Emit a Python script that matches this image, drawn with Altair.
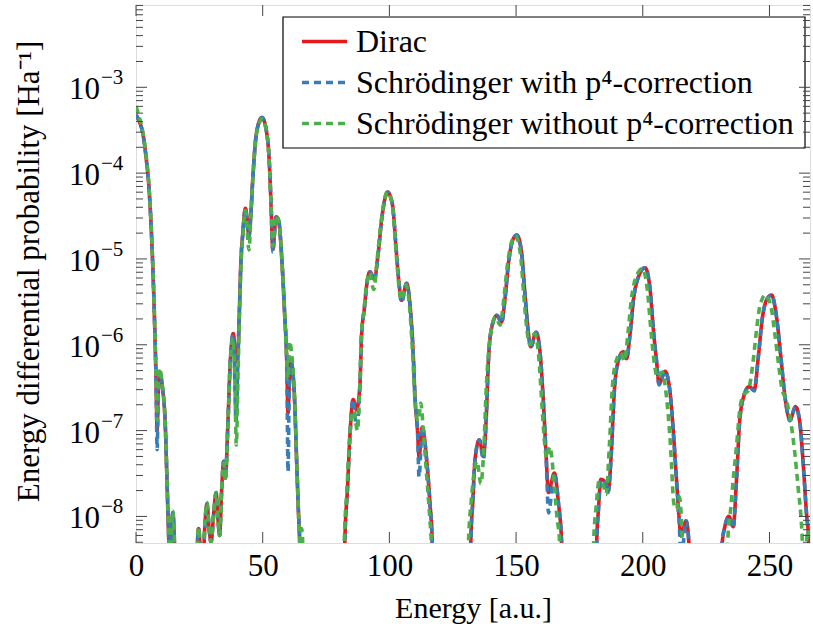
import altair as alt
import pandas as pd

FONT = "Liberation Serif"

series_names = ["Dirac", "Schrödinger with p⁴-correction", "Schrödinger without p⁴-correction"]
series_colors = ["#E41A1C", "#377EB8", "#4DAF4A"]
series_dash = [[1, 0], [7, 5], [7, 5]]

dirac_x = [0, 1.3, 2.6, 3.9, 5.3, 6.3, 7.2, 7.9, 8.35, 8.8, 9.3, 10.3, 11.6, 12.2, 12.8, 13.3, 13.7, 14.5, 15.3, 16.0,
           23.3, 24.1, 24.7, 25.5, 26.2, 27.2, 28.0, 28.9, 29.6, 30.7, 31.6, 32.4, 33.0, 33.8, 34.6, 35.3, 36.2, 37.2,
           38.4, 39.5, 40.3, 40.8, 41.4, 42.1, 43.2, 44.6, 45.3, 46.1, 47.6, 49.7, 51.3, 52.6, 53.3, 54.0, 55.3, 56.3,
           57.6, 58.6, 59.5, 60.0, 60.5, 61.2, 62.5, 63.4, 64.1, 64.7, 65.5,
           81.5, 82.4, 83.5, 84.4, 85.7, 87.0, 88.4, 89.0, 90.1, 91.0, 92.3, 94.0, 95.6, 96.9, 99.3, 101.1, 102.8,
           103.8, 104.8, 106.8, 108.1, 109.4, 110.1, 111.1, 111.7, 113.0, 114.7, 116.0, 116.9, 117.8,
           131.3, 132.1, 132.9, 133.8, 135.5, 137.1, 138.2, 139.1, 140.4, 142.4, 144.3, 145.7, 147.0, 148.7, 150.3,
           152.2, 153.6, 154.9, 155.8, 157.9, 159.5, 160.8, 161.8, 162.8, 165.1, 166.7, 168.0, 168.8,
           181.0, 181.8, 182.5, 183.5, 185.4, 186.4, 187.5, 188.8, 190.4, 192.3, 193.6, 195.0, 196.3, 198.3, 200.9,
           202.9, 204.2, 205.5, 206.4, 208.8, 210.8, 212.1, 213.4, 214.3, 215.1, 217.1, 218.6, 219.5,
           230.5, 231.3, 232.4, 234.0, 235.7, 237.0, 238.3, 240.3, 241.9, 244.0, 245.6, 247.1, 248.8, 250.8, 252.8,
           254.5, 256.1, 258.1, 260.3, 262.0, 263.3, 264.6, 265.6, 266.5]
dirac_y = [4.8e-4, 4.0e-4, 3.0e-4, 1.6e-4, 5.6e-5, 1.45e-5, 2.5e-6, 4.1e-7, 1.0e-7, 3.0e-7, 4.9e-7, 3.4e-7, 1.07e-7,
           2.8e-8, 7.2e-9, 3.0e-9, 3.5e-9, 1.1e-8, 3.5e-9, 1e-10,
           1e-10, 3.5e-9, 7.2e-9, 3.5e-9, 2e-9, 8e-9, 1.4e-8, 7e-9, 5e-9, 1.1e-8, 1.9e-8, 9e-9, 6e-9, 2e-8, 4.4e-8,
           2.8e-8, 1.07e-7, 6.3e-7, 1.35e-6, 6.3e-7, 9e-7, 2.5e-6, 9.3e-6, 1.9e-5, 3.9e-5, 1.9e-5, 3.2e-5, 8.7e-5,
           3.0e-4, 4.45e-4, 3.3e-4, 1.35e-4, 4.3e-5, 1.3e-5, 3.1e-5, 2.8e-5, 9.3e-6, 2.5e-6, 6.3e-7, 1.6e-7, 3.5e-7,
           6.3e-7, 2.6e-7, 4.4e-8, 1.15e-8, 4e-9, 1e-10,
           1e-10, 4.9e-9, 2.2e-8, 8.5e-8, 2.3e-7, 1.75e-7, 3.5e-7, 1.26e-6, 2.6e-6, 4.8e-6, 7.1e-6, 5.8e-6, 1.17e-5,
           2.8e-5, 6.0e-5, 4.5e-5, 1.17e-5, 5.2e-6, 3.3e-6, 5.2e-6, 3.0e-6, 7.9e-7, 2.5e-7, 1.0e-7, 5e-8, 1.1e-7,
           4.6e-8, 1.45e-8, 4.9e-9, 1e-10,
           1e-10, 4.7e-9, 1.45e-8, 4.6e-8, 7.8e-8, 5e-8, 1.35e-7, 6.6e-7, 1.6e-6, 2.2e-6, 1.85e-6, 3.6e-6, 8.9e-6,
           1.66e-5, 1.9e-5, 1.17e-5, 3.6e-6, 1.35e-6, 9.5e-7, 1.4e-6, 7.9e-7, 2.1e-7, 5.5e-8, 1.9e-8, 3.2e-8, 1.45e-8,
           4.7e-9, 1e-10,
           1e-10, 4.7e-9, 1.2e-8, 2.7e-8, 2.45e-8, 2.0e-8, 5e-8, 2.95e-7, 6.6e-7, 8.3e-7, 6.9e-7, 1.35e-6, 3.3e-6,
           6.2e-6, 7.9e-6, 4.4e-6, 1.48e-6, 6.2e-7, 3.5e-7, 4.9e-7, 2.75e-7, 9.3e-8, 2.45e-8, 1e-8, 5.9e-9, 8.9e-9,
           3e-9, 1e-10,
           1e-10, 4.7e-9, 7.6e-9, 1e-8, 7.6e-9, 2.7e-8, 1.35e-7, 2.75e-7, 3.25e-7, 3.0e-7, 7.2e-7, 1.95e-6, 3.3e-6,
           3.8e-6, 2.1e-6, 7.2e-7, 2.5e-7, 1.35e-7, 1.9e-7, 1.23e-7, 4.2e-8, 1.1e-8, 4.7e-9, 1e-10]

with_x = list(dirac_x)
with_y = [4.8e-4, 4.0e-4, 3.0e-4, 1.6e-4, 5.6e-5, 1.45e-5, 2.5e-6, 4.1e-7, 6e-8, 3.0e-7, 4.9e-7, 3.4e-7, 1.07e-7,
          2.8e-8, 7.2e-9, 3.0e-9, 3.5e-9, 1.1e-8, 3.5e-9, 1e-10,
          1e-10, 3.5e-9, 7.2e-9, 3.5e-9, 2e-9, 8e-9, 1.4e-8, 7e-9, 5e-9, 1.1e-8, 1.9e-8, 9e-9, 6e-9, 2e-8, 4.4e-8,
          2.8e-8, 1.07e-7, 6.3e-7, 1.35e-6, 1.3e-7, 8e-7, 2.5e-6, 9.3e-6, 1.9e-5, 3.9e-5, 1.8e-5, 3.2e-5, 8.7e-5,
          3.0e-4, 4.45e-4, 3.3e-4, 1.35e-4, 4.3e-5, 1.2e-5, 3.1e-5, 2.8e-5, 9.3e-6, 2.5e-6, 6.3e-7, 3.3e-8, 3.2e-7,
          6.3e-7, 2.6e-7, 4.4e-8, 1.15e-8, 4e-9, 1e-10,
          1e-10, 4.9e-9, 2.2e-8, 8.5e-8, 2.3e-7, 1.1e-7, 3.5e-7, 1.26e-6, 2.6e-6, 4.8e-6, 7.1e-6, 5.6e-6, 1.17e-5,
          2.8e-5, 6.0e-5, 4.5e-5, 1.17e-5, 5.2e-6, 3.1e-6, 5.2e-6, 3.0e-6, 7.9e-7, 2.5e-7, 1.0e-7, 2.9e-8, 1.1e-7,
          4.6e-8, 1.45e-8, 4.9e-9, 1e-10,
          1e-10, 4.7e-9, 1.45e-8, 4.6e-8, 7.8e-8, 4.6e-8, 1.35e-7, 6.6e-7, 1.6e-6, 2.2e-6, 1.8e-6, 3.6e-6, 8.9e-6,
          1.66e-5, 1.9e-5, 1.17e-5, 3.6e-6, 1.35e-6, 9.2e-7, 1.4e-6, 7.9e-7, 2.1e-7, 5.5e-8, 1.1e-8, 3.2e-8, 1.45e-8,
          4.7e-9, 1e-10,
          1e-10, 4.7e-9, 1.2e-8, 2.7e-8, 2.45e-8, 1.9e-8, 5e-8, 2.95e-7, 6.6e-7, 8.3e-7, 6.8e-7, 1.35e-6, 3.3e-6,
          6.2e-6, 7.9e-6, 4.4e-6, 1.48e-6, 6.2e-7, 3.4e-7, 4.9e-7, 2.75e-7, 9.3e-8, 2.45e-8, 1e-8, 3e-9, 8.9e-9,
          3e-9, 1e-10,
          1e-10, 4.7e-9, 7.6e-9, 1e-8, 7.3e-9, 2.7e-8, 1.35e-7, 2.75e-7, 3.25e-7, 2.9e-7, 7.2e-7, 1.95e-6, 3.3e-6,
          3.8e-6, 2.1e-6, 7.2e-7, 2.5e-7, 1.3e-7, 1.9e-7, 1.23e-7, 4.2e-8, 1.1e-8, 4.7e-9, 1e-10]

without_x = [0, 1.3, 2.6, 3.9, 5.3, 6.3, 7.2, 7.9, 8.35, 8.8, 9.3, 10.3, 11.6, 12.2, 12.8, 13.3, 13.7, 14.5, 15.3, 16.0,
             23.3, 24.1, 24.7, 25.5, 26.2, 27.2, 28.0, 28.9, 29.6, 30.7, 31.6, 32.4, 33.0, 33.8, 34.6, 35.3, 36.2,
             37.2, 38.3, 39.0, 39.6, 40.3, 40.9, 41.5, 42.1, 43.2, 44.6, 45.3, 46.1, 47.6, 49.9, 51.4, 52.6, 53.3,
             54.0, 55.2, 56.3, 57.6, 58.6, 59.5, 60.0, 60.6, 61.4, 62.5, 63.4, 64.2, 64.8, 65.4, 66.0, 66.6,
             81.5, 82.2, 83.3, 84.3, 85.3, 86.1, 86.8, 87.4, 88.3, 88.9, 90.0, 90.9, 92.2, 93.8, 95.4, 96.8, 99.2,
             101.0, 102.7, 103.7, 104.7, 106.6, 107.9, 109.2, 110.0, 110.8, 111.5, 112.4, 113.4, 114.7, 116.0, 116.6,
             117.3,
             130.5, 131.2, 132.3, 133.4, 134.6, 136.1, 137.3, 138.2, 139.4, 140.4, 141.9, 143.7, 145.2, 146.6, 148.3,
             149.8, 151.7, 153.1, 154.4, 155.4, 157.3, 158.9, 160.2, 161.2, 162.1, 163.3, 164.7, 166.1, 167.2, 168.0,
             180.0, 180.6, 181.6, 182.8, 184.3, 185.5, 186.8, 188.0, 189.6, 191.3, 192.7, 194.2, 195.5, 197.5, 199.8,
             201.8, 203.2, 204.6, 205.7, 207.7, 209.4, 210.9, 212.3, 213.3, 214.4, 215.5, 216.5,
             232.5, 233.5, 234.8, 235.7, 237.0, 238.3, 239.6, 241.6, 243.6, 244.9, 246.2, 248.4, 250.6, 252.1, 253.7,
             255.0, 256.3, 258.1, 260.0, 261.3, 262.7, 263.4, 264.3, 265.2, 266.0]
without_y = [6.0e-4, 4.5e-4, 3.1e-4, 1.7e-4, 6.0e-5, 1.5e-5, 2.6e-6, 4.3e-7, 1.3e-7, 3.3e-7, 5.3e-7, 3.6e-7, 1.1e-7,
             2.9e-8, 7.5e-9, 3e-9, 3.5e-9, 1.15e-8, 3.5e-9, 1e-10,
             1e-10, 3.5e-9, 7.5e-9, 3.5e-9, 2e-9, 8.5e-9, 1.45e-8, 7e-9, 5e-9, 1.1e-8, 1.9e-8, 9e-9, 6e-9, 2e-8,
             4.2e-8, 2.6e-8, 1.0e-7, 6.0e-7, 1.2e-6, 4e-7, 6.8e-8, 5e-7, 2.5e-6, 9e-6, 1.8e-5, 3.7e-5, 1.27e-5,
             3.0e-5, 8.5e-5, 2.9e-4, 4.3e-4, 3.2e-4, 1.35e-4, 4.3e-5, 1.4e-5, 3.2e-5, 2.8e-5, 9.5e-6, 2.6e-6, 6.5e-7,
             4e-7, 1.1e-6, 8e-7, 2.8e-7, 4.6e-8, 1.0e-8, 4.5e-9, 7.2e-9, 3e-9, 1e-10,
             1e-10, 4.9e-9, 2.2e-8, 8e-8, 1.6e-7, 1.7e-7, 1.2e-7, 1.0e-7, 3.2e-7, 1.2e-6, 2.6e-6, 4.8e-6, 7.0e-6,
             4.4e-6, 1.15e-5, 2.8e-5, 6.0e-5, 4.5e-5, 1.15e-5, 5.0e-6, 3.3e-6, 5.0e-6, 2.9e-6, 7.5e-7, 2.5e-7, 1.4e-7,
             1.3e-7, 2.1e-7, 1.0e-7, 3e-8, 9e-9, 4.5e-9, 1e-10,
             1e-10, 4.9e-9, 1.5e-8, 3.2e-8, 4.4e-8, 2.4e-8, 6.5e-8, 3e-7, 1.0e-6, 1.6e-6, 2.1e-6, 1.7e-6, 3.5e-6,
             8.6e-6, 1.6e-5, 1.85e-5, 1.15e-5, 3.6e-6, 1.4e-6, 1.0e-6, 1.35e-6, 7.5e-7, 2.0e-7, 7.5e-8, 4.8e-8, 6.5e-8,
             3.2e-8, 1.0e-8, 4.9e-9, 1e-10,
             1e-10, 4.9e-9, 1.3e-8, 2.6e-8, 2.4e-8, 1.8e-8, 6.5e-8, 3.2e-7, 6.6e-7, 8.0e-7, 6.5e-7, 1.4e-6, 3.4e-6,
             6.3e-6, 7.7e-6, 4.4e-6, 1.5e-6, 6.0e-7, 4.2e-7, 4.8e-7, 2.4e-7, 7.0e-8, 1.4e-8, 1.2e-8, 1.7e-8, 6e-9,
             1e-10,
             1e-10, 5e-9, 1.3e-8, 2.7e-8, 6.6e-8, 1.75e-7, 2.6e-7, 2.9e-7, 6.6e-7, 1.5e-6, 2.8e-6, 3.8e-6, 2.8e-6,
             1.35e-6, 5.6e-7, 3.0e-7, 2.4e-7, 1.45e-7, 5.5e-8, 2.2e-8, 7.6e-9, 3e-9, 4e-9, 7e-9, 6e-9]

x_ticks = [0, 50, 100, 150, 200, 250]
y_major = [1e-8, 1e-7, 1e-6, 1e-5, 1e-4, 1e-3]
y_exponents = ["−8", "−7", "−6", "−5", "−4", "−3"]
y_minor = [m * 10.0 ** k for k in range(-9, -2) for m in range(2, 10) if 4.9e-9 < m * 10.0 ** k < 9.1e-3]

W, H = 674, 538
xscale = alt.Scale(domain=[0, 266], nice=False, zero=False)
yscale = alt.Scale(type="log", domain=[4.9e-9, 9.1e-3], nice=False)

xaxis = alt.Axis(values=x_ticks, format="d", labelFlush=False, ticks=False, domain=False, grid=False,
                 labelFont=FONT, labelFontSize=31, labelColor="black", labelPadding=8,
                 title="Energy [a.u.]", titleFont=FONT, titleFontSize=30, titleFontWeight="normal",
                 titleColor="black", titleX=W / 2, titleY=74, titleAlign="center", titleBaseline="alphabetic")
yaxis = alt.Axis(labels=False, ticks=False, domain=False, grid=False,
                 title="Energy differential probability [Ha⁻¹]", titleFont=FONT, titleFontSize=31,
                 titleFontWeight="normal", titleColor="black", titleX=-107, titleY=266,
                 titleAngle=270, titleAlign="center", titleBaseline="middle")

rows = []
for name, xs, ys in [(series_names[0], dirac_x, dirac_y), (series_names[1], with_x, with_y),
                     (series_names[2], without_x, without_y)]:
    for a, b in zip(xs, ys):
        rows.append({"series": name, "energy": a, "prob": b})
df = pd.DataFrame(rows)

leg = alt.Legend(orient="none", legendX=164, legendY=12, title=None, symbolType="stroke",
                 symbolSize=2025, symbolStrokeWidth=3.5, labelFont=FONT, labelFontSize=32,
                 labelColor="black", labelOffset=7, labelLimit=700, padding=0, rowPadding=-5)

# legend frame (drawn as a layer, legend entries are rendered on top of it)
legend_box = alt.Chart(pd.DataFrame({"k": [0]})).mark_rect(fill="white", stroke="black", strokeWidth=1.2).encode(
    x=alt.value(147), x2=alt.value(669), y=alt.value(12), y2=alt.value(143))

lines = alt.Chart(df).mark_line(clip=True, interpolate="monotone", strokeWidth=3.6).encode(
    x=alt.X("energy:Q", scale=xscale, axis=xaxis),
    y=alt.Y("prob:Q", scale=yscale, axis=yaxis),
    color=alt.Color("series:N", scale=alt.Scale(domain=series_names, range=series_colors), legend=leg),
    strokeDash=alt.StrokeDash("series:N", scale=alt.Scale(domain=series_names, range=series_dash), legend=leg),
)

df_major = pd.DataFrame({"prob": y_major, "e": y_exponents})
df_minor = pd.DataFrame({"prob": y_minor})
df_xt = pd.DataFrame({"energy": x_ticks})
TICK = "#444444"

def yrule(data, x0, x1):
    return alt.Chart(data).mark_rule(color=TICK, strokeWidth=1).encode(
        y=alt.Y("prob:Q", scale=yscale, axis=yaxis), x=alt.value(x0), x2=alt.value(x1))

def xrule(y0, y1):
    return alt.Chart(df_xt).mark_rule(color=TICK, strokeWidth=1).encode(
        x=alt.X("energy:Q", scale=xscale, axis=xaxis), y=alt.value(y0), y2=alt.value(y1))

ticks = [yrule(df_major, 0, 11), yrule(df_major, W - 11, W), yrule(df_minor, 0, 7), yrule(df_minor, W - 7, W),
         xrule(H, H - 11), xrule(0, 11)]

lab10 = alt.Chart(df_major).mark_text(align="right", baseline="middle", font=FONT, fontSize=31, dy=3,
                                      color="black").encode(
    y=alt.Y("prob:Q", scale=yscale, axis=yaxis), x=alt.value(-36), text=alt.value("10"))
labexp = alt.Chart(df_major).mark_text(align="left", baseline="middle", font=FONT, fontSize=21, dy=-9,
                                       color="black").encode(
    y=alt.Y("prob:Q", scale=yscale, axis=yaxis), x=alt.value(-35), text="e:N")

chart = alt.layer(lines, legend_box, *ticks, lab10, labexp).properties(
    width=W, height=H,
    autosize=alt.AutoSizeParams(type="none"),
    padding={"left": 136, "top": 5, "right": 3, "bottom": 87},
).configure_view(stroke="black", strokeWidth=1.2).configure(background="white")

chart.save("out.html", embed_options={"renderer": "svg", "actions": False})
